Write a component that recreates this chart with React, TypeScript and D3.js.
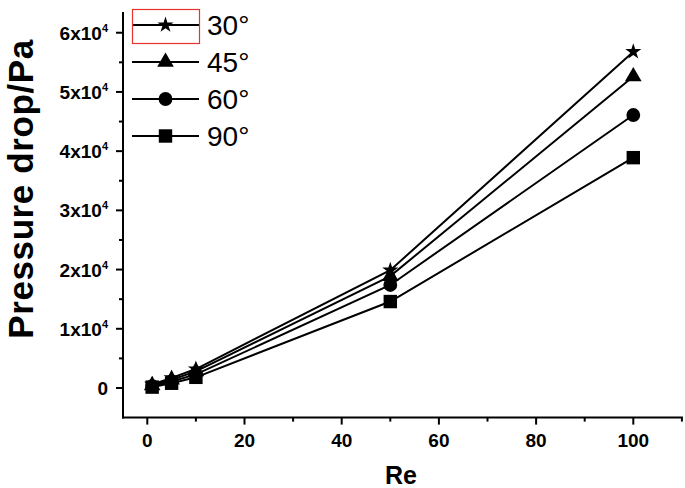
import React from "react";
import * as d3 from "d3";

const reValues = [1, 5, 10, 50, 100];
const seriesNames = ["30°", "45°", "60°", "90°"];
const s30 = [600, 1700, 3200, 19900, 56800];
const s45 = [450, 1400, 2800, 18900, 52600];
const s60 = [300, 1100, 2300, 17400, 46100];
const s90 = [150, 800, 1800, 14600, 38900];
const xTicks = [0, 20, 40, 60, 80, 100];
const xMinorTicks = [10, 30, 50, 70, 90, 110];
const yTickMantissas = [0, 1, 2, 3, 4, 5, 6];
const yMinorTicks = [5000, 15000, 25000, 35000, 45000, 55000];

const W = 685;
const H = 488;
const FONT = "Arial, 'Liberation Sans', sans-serif";

export default function App() {
  const x = d3.scaleLinear().domain([-5, 110]).range([123, 681.9]);
  const y = d3.scaleLinear().domain([-5000, 63500]).range([417.6, 12]);
  const allSeries = [s30, s45, s60, s90];
  const symbols = [d3.symbolStar, d3.symbolTriangle, d3.symbolCircle, d3.symbolSquare];
  const sizes = [80, 120, 150, 180];
  const line = d3
    .line<number>()
    .x((_, i) => x(reValues[i]))
    .y((d) => y(d));
  const sym = (i: number) => d3.symbol(symbols[i], sizes[i])() as string;
  const x0 = x(-5);
  const y0 = y(-5000);

  return (
    <svg width={W} height={H} style={{ position: "absolute", left: 0, top: 0, background: "#fff" }}>
      <rect width={W} height={H} fill="#fff" />
      {/* axes */}
      <line x1={x0} x2={x0} y1={y(63500)} y2={y0 + 1} stroke="#000" strokeWidth={2} />
      <line x1={x0 - 1} x2={x(110) + 1} y1={y0} y2={y0} stroke="#000" strokeWidth={2} />
      {xTicks.map((t) => (
        <g key={"xt" + t}>
          <line x1={x(t)} x2={x(t)} y1={y0} y2={y0 + 7} stroke="#000" strokeWidth={2} />
          <text x={x(t)} y={447} textAnchor="middle" fontFamily={FONT} fontWeight="bold" fontSize={19}>
            {t}
          </text>
        </g>
      ))}
      {xMinorTicks.map((t) => (
        <line key={"xm" + t} x1={x(t)} x2={x(t)} y1={y0} y2={y0 + 4} stroke="#000" strokeWidth={2} />
      ))}
      {yTickMantissas.map((m) => (
        <g key={"yt" + m}>
          <line x1={x0 - 7} x2={x0} y1={y(m * 10000)} y2={y(m * 10000)} stroke="#000" strokeWidth={2} />
          {m === 0 ? (
            <text x={108} y={y(0) + 7} textAnchor="end" fontFamily={FONT} fontWeight="bold" fontSize={19}>
              0
            </text>
          ) : (
            <text x={108} y={y(m * 10000) + 7} textAnchor="end" fontFamily={FONT} fontWeight="bold" fontSize={19}>
              {m}x10
              <tspan fontSize={11} dy={-8}>4</tspan>
            </text>
          )}
        </g>
      ))}
      {yMinorTicks.map((t) => (
        <line key={"ym" + t} x1={x0 - 4} x2={x0} y1={y(t)} y2={y(t)} stroke="#000" strokeWidth={2} />
      ))}
      {/* axis titles */}
      <text
        transform={`translate(33,${189}) rotate(-90)`}
        textAnchor="middle"
        fontFamily={FONT}
        fontWeight="bold"
        fontSize={35}
        letterSpacing={0.6}
      >
        Pressure drop/Pa
      </text>
      <text x={401} y={484} textAnchor="middle" fontFamily={FONT} fontWeight="bold" fontSize={25}>
        Re
      </text>
      {/* series */}
      {allSeries.map((s, i) => (
        <g key={"s" + i}>
          <path d={line(s) as string} fill="none" stroke="#000" strokeWidth={2} />
          {s.map((v, j) => (
            <path key={j} d={sym(i)} transform={`translate(${x(reValues[j])},${y(v)})`} fill="#000" />
          ))}
        </g>
      ))}
      {/* legend */}
      {seriesNames.map((name, i) => {
        const ly = 25 + i * 37;
        return (
          <g key={"lg" + i}>
            <line x1={132} x2={199} y1={ly} y2={ly} stroke="#000" strokeWidth={2} />
            <path d={sym(i)} transform={`translate(165.5,${ly})`} fill="#000" />
            <text x={207} y={ly + 10} fontFamily={FONT} fontSize={28}>
              {name}
            </text>
          </g>
        );
      })}
      <rect x={132.5} y={9.5} width={67} height={34} fill="none" stroke="#e8322e" strokeWidth={1.2} />
    </svg>
  );
}
